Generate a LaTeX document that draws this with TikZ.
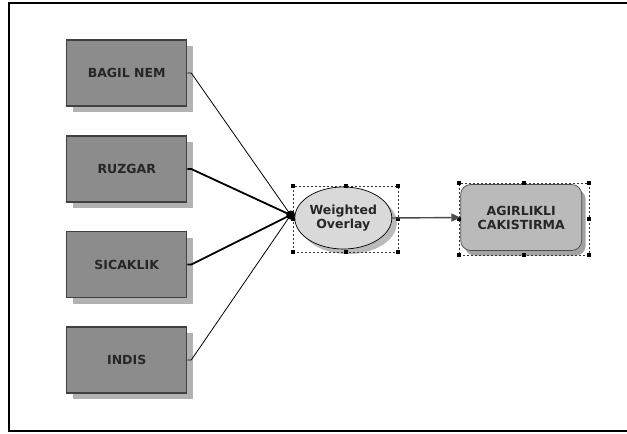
\documentclass[tikz,border=0pt]{standalone}
\usepackage{fontspec}
\newfontfamily\modelfont{DejaVu Sans}
\usetikzlibrary{arrows.meta, shadows, fit, shapes.geometric}

\begin{document}
\begin{tikzpicture}[
            x=1pt, y=-1pt,
            font=\modelfont\bfseries\fontsize{12.5}{14}\selectfont,
            >={Triangle[length=9pt, width=8pt]},
            layer/.style  ={draw=black!75, line width=1.1pt, fill=black!45, text=black!85,
                    minimum width=120pt, minimum height=66pt, inner sep=0pt,
                    drop shadow={shadow xshift=6pt, shadow yshift=-6pt, fill=black!30, opacity=1}},
            tool/.style   ={ellipse, draw=black, line width=0.7pt, fill=black!15, text=black!85,
                    minimum width=97pt, minimum height=62pt, inner sep=0pt, align=center,
                    drop shadow={shadow xshift=5pt, shadow yshift=-5pt, fill=black!27, opacity=1}},
            result/.style ={draw=black!70, line width=0.7pt, rounded corners=10pt, fill=black!27,
                    text=black!85, minimum width=121pt, minimum height=66pt, inner sep=0pt,
                    align=center,
                    drop shadow={shadow xshift=4pt, shadow yshift=-5pt, fill=black!36, opacity=1}},
            sel/.style    ={draw=black!80, dashed, dash pattern=on 2pt off 2pt, line width=0.6pt,
                    inner sep=0pt},
            handle/.style ={fill=black, inner sep=0pt, minimum size=4pt},
            hubdot/.style ={circle, fill=black, inner sep=0pt, minimum size=9pt},
            thinin/.style ={line width=0.8pt, draw=black},
            thickin/.style={line width=1.8pt, draw=black},
            flow/.style   ={->, line width=1.4pt, draw=black!70}
        ]

        \useasboundingbox (0,0) rectangle (627,434);
        % frame, open on the right side
        \draw[line width=2pt] (640,2.5) -- (9,2.5) -- (9,431) -- (640,431);

        %% --- input layers (left) ---
        \node[layer] (bagil)    at (126.7,73)  {BAGIL NEM};
        \node[layer] (ruzgar)   at (126.7,169) {RUZGAR};
        \node[layer] (sicaklik) at (126.7,264.5) {SICAKLIK};
        \node[layer] (indis)    at (126.7,360) {INDIS};

        %% --- tool and output ---
        \node[tool]   (overlay) at (343.3,218) {Weighted\\Overlay};
        \node[result] (cakis)   at (521.2,217.5) {AGIRLIKLI\\CAKISTIRMA};

        %% selection frames with their grab handles
        \node[sel, fit={(293,186) (398,252)}] (overlaysel) {};
        \node[sel, fit={(459,183.5) (589,255)}] (cakissel) {};
        \foreach \s in {overlaysel, cakissel}
            \foreach \a in {north west, north, north east, east, south east, south, south west, west}
                \node[handle] (\s-\a) at (\s.\a) {};

        %% --- edges ---
        \draw[flow] (overlay.east) -- (cakis.west);
        % all inputs meet in one point left of the tool
        \node[hubdot] (hub) at (290.7,215) {};
        \draw[thinin]  (bagil.east)    -- ++(4,0) -- (hub.center);
        \draw[thickin] (ruzgar.east)   -- ++(4,0) -- (hub.center);
        \draw[thickin] (sicaklik.east) -- ++(4,0) -- (hub.center);
        \draw[thinin]  (indis.east)    -- ++(4,0) -- (hub.center);

    \end{tikzpicture}
\end{document}
